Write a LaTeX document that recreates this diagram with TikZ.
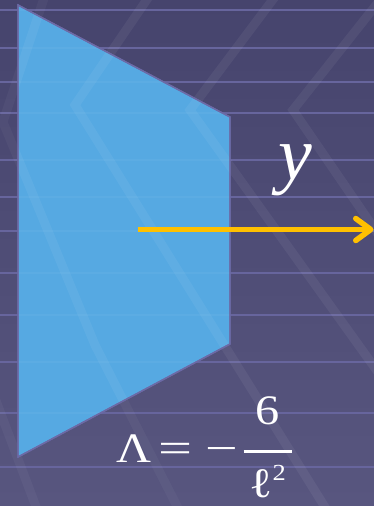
\RequirePackage{fix-cm}
\documentclass[tikz,border=0pt]{standalone}
\usepackage{fontspec}
\setmainfont{Liberation Serif}
\usepackage{graphicx}
\usetikzlibrary{arrows.meta}
\definecolor{bgtop}{HTML}{46446D}
\definecolor{bgbot}{HTML}{58567F}
\definecolor{hline}{HTML}{67659D}
\definecolor{plane}{HTML}{56A9E2}
\definecolor{planeedge}{HTML}{6C6AA6}
\definecolor{arrowyellow}{HTML}{FFC000}
\tikzset{
  hstripe/.style={draw=hline, line width=2.8pt},
  dband/.style={draw=white, draw opacity=0.055, line width=9pt, line join=miter},
  planestyle/.style={fill=plane, draw=planeedge, line width=1.4pt, line join=miter},
  yarrow/.style={draw=arrowyellow, line width=5.5pt,
    -{Straight Barb[length=15pt,width=22pt,round]}},
  lbl/.style={text=white, inner sep=0pt},
}
\newcommand{\texturelines}{%
  \foreach \yy in {10,48,82,113,160,197,231,273,315,362,413,467}
    {\path[hstripe] (0,\yy) -- (374,\yy);}%
}
\newcommand{\texturebands}{%
  \path[dband] (150,-5) -- (75,105) -- (328,512);
  \path[dband] (280,-10) -- (190,110) -- (380,375);
  \path[dband] (380,0) -- (293,110) -- (380,237);
  \path[dband, draw opacity=0.035] (45,-5) -- (3,122) -- (95,345) -- (180,512);
  \path[dband, draw opacity=0.04] (-10,385) -- (38,512);
}
\begin{document}
\begin{tikzpicture}[x=1pt,y=-1pt]
  \useasboundingbox (0,0) rectangle (374,506);
  \shade[top color=bgtop, bottom color=bgbot] (0,0) rectangle (374,506);
  \texturelines
  \texturebands
  % the plane
  \path[planestyle] (18,5) -- (230,117) -- (230,344) -- (18,457) -- cycle;
  \begin{scope}
    \clip (18,5) -- (230,117) -- (230,344) -- (18,457) -- cycle;
    \foreach \yy in {10,48,82,113,160,197,231,273,315,362,413,467}
      {\path[draw=white, draw opacity=0.04, line width=2.8pt] (0,\yy) -- (374,\yy);}
    \begin{scope}[every path/.append style={draw opacity=0.025}]
      \path[dband] (150,-5) -- (75,105) -- (328,512);
      \path[dband] (280,-10) -- (190,110) -- (380,375);
      \path[dband] (45,-5) -- (3,122) -- (95,345) -- (180,512);
    \end{scope}
  \end{scope}
  \path[draw=planeedge, line width=1.4pt] (18,5) -- (230,117) -- (230,344) -- (18,457) -- cycle;
  % arrow
  \coordinate (arrowstart) at (138,229.5);
  \coordinate (arrowtip) at (373.5,229.5);
  \draw[yarrow] (arrowstart) -- (arrowtip);
  % labels
  \node[lbl, anchor=base west] (ylabel) at (278,179)
    {\fontsize{76}{90}\selectfont\itshape y};
  \node[lbl, anchor=base west] (lambda) at (116.5,462)
    {\fontsize{42}{50}\selectfont\nulldelimiterspace=0pt\scalebox{1.15}[1]{%
      Λ\hspace{5.7pt}\scalebox{1.25}[1]{=}\hspace{11.2pt}\scalebox{1.2}[1]{−}\hspace{5pt}$\displaystyle
      {\hbox to 41.7pt{\hss 6\rule[-18pt]{0pt}{18pt}\hss}\above 2.6pt
       \hbox to 41.7pt{\hss\rule{0pt}{37pt}ℓ\raisebox{17pt}{\fontsize{23}{28}\selectfont 2}\hss}}$}};
\end{tikzpicture}
\end{document}
